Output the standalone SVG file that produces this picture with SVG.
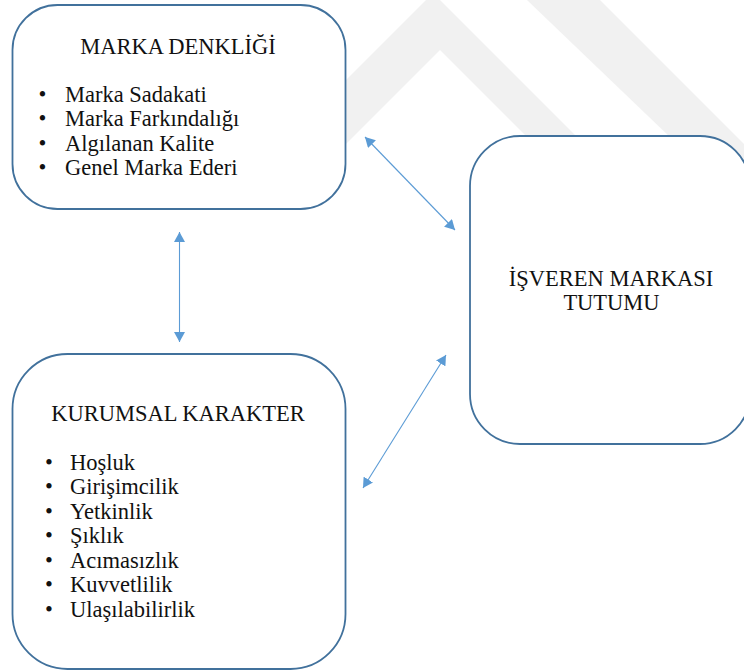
<svg xmlns="http://www.w3.org/2000/svg" width="744" height="671" viewBox="0 0 744 671">
  <defs>
    <marker id="ah" markerUnits="userSpaceOnUse" markerWidth="10" markerHeight="11" refX="10" refY="5.5" orient="auto-start-reverse">
      <path d="M0,0 L10,5.5 L0,11 Z" fill="#5b9bd5"/>
    </marker>
  </defs>
  <rect width="744" height="671" fill="#ffffff"/>
  <g id="watermark" fill="#f1f1f1">
    <polygon points="433,-7 640,200 590,200 440,50 290,200 226,200"/>
    <polygon points="527,0 600,0 744,144 744,208"/>
  </g>
  <g id="connectors" stroke="#5b9bd5" stroke-width="1.1" fill="none" marker-start="url(#ah)" marker-end="url(#ah)">
    <line x1="179.5" y1="232" x2="179.5" y2="342"/>
    <line x1="365" y1="137" x2="455" y2="230"/>
    <line x1="363" y1="488" x2="446" y2="355"/>
  </g>
  <g id="marka-denkligi" font-family="Liberation Serif, serif" font-size="22.5" fill="#111111">
    <rect x="12.5" y="5" width="333" height="204" rx="45" ry="45" fill="#ffffff" stroke="#41719c" stroke-width="1.8"/>
    <text x="178" y="54" text-anchor="middle">MARKA DENKLİĞİ</text>
    <text x="42.5" y="102" text-anchor="middle">•</text>
    <text x="65" y="102">Marka Sadakati</text>
    <text x="42.5" y="126.3" text-anchor="middle">•</text>
    <text x="65" y="126.3">Marka Farkındalığı</text>
    <text x="42.5" y="150.6" text-anchor="middle">•</text>
    <text x="65" y="150.6">Algılanan Kalite</text>
    <text x="42.5" y="175" text-anchor="middle">•</text>
    <text x="65" y="175">Genel Marka Ederi</text>
  </g>
  <g id="kurumsal-karakter" font-family="Liberation Serif, serif" font-size="22.5" fill="#111111">
    <rect x="12.5" y="354" width="333" height="315" rx="55" ry="55" fill="#ffffff" stroke="#41719c" stroke-width="1.8"/>
    <text x="178" y="421" text-anchor="middle">KURUMSAL KARAKTER</text>
    <text x="49" y="469.5" text-anchor="middle">•</text>
    <text x="70" y="469.5">Hoşluk</text>
    <text x="49" y="494" text-anchor="middle">•</text>
    <text x="70" y="494">Girişimcilik</text>
    <text x="49" y="518.5" text-anchor="middle">•</text>
    <text x="70" y="518.5">Yetkinlik</text>
    <text x="49" y="543" text-anchor="middle">•</text>
    <text x="70" y="543">Şıklık</text>
    <text x="49" y="567.5" text-anchor="middle">•</text>
    <text x="70" y="567.5">Acımasızlık</text>
    <text x="49" y="592" text-anchor="middle">•</text>
    <text x="70" y="592">Kuvvetlilik</text>
    <text x="49" y="616.5" text-anchor="middle">•</text>
    <text x="70" y="616.5">Ulaşılabilirlik</text>
  </g>
  <g id="isveren-markasi-tutumu" font-family="Liberation Serif, serif" font-size="22.5" fill="#111111">
    <rect x="470" y="136" width="280" height="308" rx="50" ry="50" fill="#ffffff" stroke="#41719c" stroke-width="1.8"/>
    <text x="611" y="286" text-anchor="middle">İŞVEREN MARKASI</text>
    <text x="611.5" y="310" text-anchor="middle">TUTUMU</text>
  </g>
</svg>
